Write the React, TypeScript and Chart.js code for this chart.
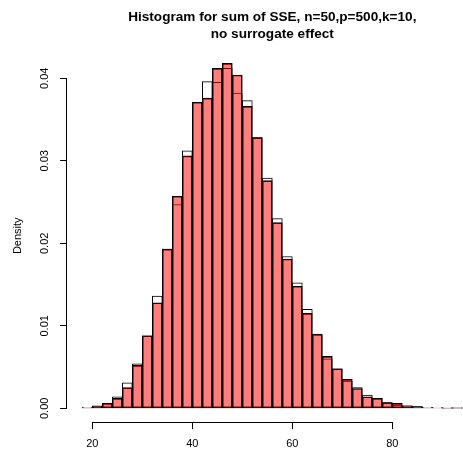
import { useEffect, useRef } from "react";
import { Chart, registerables } from "chart.js";

Chart.register(...registerables);

// Histogram bin starts (bin width 2)
const binStarts = [
  18, 20, 22, 24, 26, 28, 30, 32, 34, 36, 38, 40, 42, 44, 46, 48, 50, 52, 54,
  56, 58, 60, 62, 64, 66, 68, 70, 72, 74, 76, 78, 80, 82, 84, 86, 88, 90, 92,
];
const binWidth = 2;

// White (outlined) histogram densities
const outlineDensity = [
  0.0001, 0.0002, 0.0006, 0.0014, 0.0031, 0.0054, 0.0088, 0.0136, 0.0193,
  0.0247, 0.0312, 0.0371, 0.0396, 0.0395, 0.0412, 0.0382, 0.0373, 0.0328,
  0.0279, 0.023, 0.0184, 0.0152, 0.012, 0.0089, 0.006, 0.0048, 0.0033,
  0.0025, 0.0016, 0.0012, 0.0007, 0.0004, 0.0003, 0.0002, 0.0001, 0.0001,
  0.00003, 0.00002,
];

// Semi-transparent red histogram densities
const filledDensity = [
  0.0001, 0.0003, 0.0006, 0.0012, 0.0025, 0.0052, 0.0088, 0.0128, 0.0193,
  0.0257, 0.0306, 0.0371, 0.0376, 0.0412, 0.0418, 0.0404, 0.0366, 0.0328,
  0.0276, 0.0225, 0.0181, 0.0148, 0.0115, 0.009, 0.0063, 0.0048, 0.0035,
  0.0024, 0.0014, 0.0012, 0.0007, 0.0006, 0.0003, 0.0002, 0.0001, 0.00005,
  0.00003, 0.00002,
];

const xTickValues = [20, 40, 60, 80];
const yTickValues = [0, 0.01, 0.02, 0.03, 0.04];
const titleLines = [
  "Histogram for sum of SSE, n=50,p=500,k=10,",
  "no surrogate effect",
];
const yAxisLabel = "Density";

const FONT = "'Liberation Sans', Arial, Helvetica, sans-serif";

const axisLinePlugin = {
  id: "rAxisLines",
  afterDraw(chart: any) {
    const { ctx, chartArea, scales } = chart;
    const x = scales.x;
    const y = scales.y;
    ctx.save();
    ctx.strokeStyle = "#000";
    ctx.lineWidth = 1;
    ctx.beginPath();
    const yb = Math.round(chartArea.bottom) + 0.5;
    ctx.moveTo(x.getPixelForValue(xTickValues[0]), yb);
    ctx.lineTo(x.getPixelForValue(xTickValues[xTickValues.length - 1]), yb);
    const xl = Math.round(chartArea.left) - 0.5;
    ctx.moveTo(xl, y.getPixelForValue(yTickValues[0]));
    ctx.lineTo(xl, y.getPixelForValue(yTickValues[yTickValues.length - 1]));
    ctx.stroke();
    ctx.restore();
  },
};

export default function App() {
  const ref = useRef<HTMLCanvasElement | null>(null);

  useEffect(() => {
    if (!ref.current) return;
    const centers = binStarts.map((b) => b + binWidth / 2);
    const chart = new Chart(ref.current, {
      type: "bar",
      data: {
        datasets: [
          {
            label: "outline",
            data: centers.map((c, i) => ({ x: c, y: outlineDensity[i] })),
            backgroundColor: "#ffffff",
            borderColor: "#000000",
            borderWidth: 1,
            borderSkipped: false,
            grouped: false,
            order: 2,
            barPercentage: 1,
            categoryPercentage: 1,
          } as any,
          {
            label: "filled",
            data: centers.map((c, i) => ({ x: c, y: filledDensity[i] })),
            backgroundColor: "rgba(255,0,0,0.5)",
            borderColor: "#000000",
            borderWidth: 1,
            borderSkipped: false,
            grouped: false,
            order: 1,
            barPercentage: 1,
            categoryPercentage: 1,
          } as any,
        ],
      },
      options: {
        animation: false,
        responsive: false,
        layout: { padding: { left: 0, right: 34.5, top: 0, bottom: 0 } },
        plugins: {
          legend: { display: false },
          tooltip: { enabled: false },
          title: {
            display: true,
            text: titleLines,
            fullSize: false,
            color: "#000",
            font: { family: FONT, size: 13.6, weight: "bold", lineHeight: 17 / 13.6 },
            padding: { top: 8.8, bottom: 6.6 },
          },
        },
        scales: {
          x: {
            type: "linear",
            min: 14.96,
            max: 97.04,
            offset: false,
            afterFit: (s: any) => {
              s.height = 32.9;
            },
            afterBuildTicks: (s: any) => {
              s.ticks = xTickValues.map((v) => ({ value: v }));
            },
            grid: {
              offset: false,
              drawOnChartArea: false,
              drawTicks: true,
              tickLength: 7,
              color: "#000",
              lineWidth: 1,
            },
            border: { display: false },
            ticks: {
              autoSkip: false,
              maxRotation: 0,
              minRotation: 0,
              padding: 8,
              color: "#000",
              font: { family: FONT, size: 11 },
              callback: (v: any) => String(v),
            },
          },
          y: {
            type: "linear",
            min: -0.00167,
            max: 0.0435,
            afterFit: (s: any) => {
              s.width = 67.1;
            },
            afterBuildTicks: (s: any) => {
              s.ticks = yTickValues.map((v) => ({ value: v }));
            },
            grid: {
              offset: false,
              drawOnChartArea: false,
              drawTicks: true,
              tickLength: 7,
              color: "#000",
              lineWidth: 1,
            },
            border: { display: false },
            title: {
              display: true,
              text: yAxisLabel,
              color: "#000",
              font: { family: FONT, size: 11, lineHeight: 1.2 },
              padding: { top: 11.7, bottom: 0 },
            },
            ticks: {
              autoSkip: false,
              minRotation: 90,
              maxRotation: 90,
              crossAlign: "center",
              padding: 4,
              color: "#000",
              font: { family: FONT, size: 11 },
              callback: (v: any) => Number(v).toFixed(2),
            },
          },
        },
      } as any,
      plugins: [axisLinePlugin],
    });
    return () => chart.destroy();
  }, []);

  return (
    <div
      style={{
        position: "fixed",
        left: 0,
        top: 0,
        width: 463,
        height: 455,
        overflow: "hidden",
        background: "#fff",
      }}
    >
      <canvas ref={ref} width={512} height={455} style={{ display: "block" }} />
    </div>
  );
}
